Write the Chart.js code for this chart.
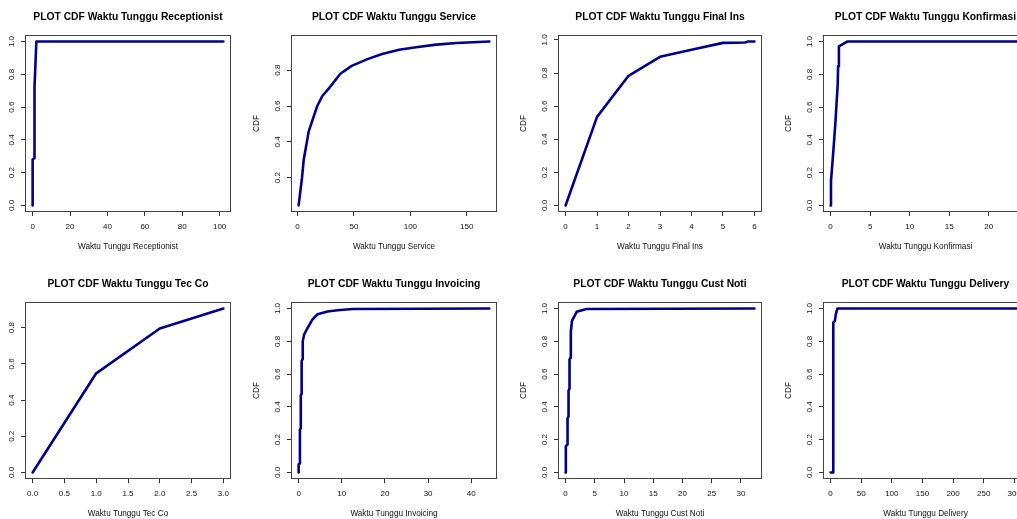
<!DOCTYPE html>
<html><head><meta charset="utf-8">
<script src="https://cdn.jsdelivr.net/npm/chart.js@4/dist/chart.umd.min.js"></script>
<style>
html,body{margin:0;padding:0;background:#fff;overflow:hidden}
#wrap{position:relative;width:1017px;height:519px;overflow:hidden;background:#fff}
#wrap canvas{position:absolute}
</style></head><body><div id="wrap"></div>
<script>
// ---- data ----
const recepX = [0, 0, 1, 1, 2, 102];
const recepY = [0, 0.28, 0.29, 0.72, 1, 1];
const serviceX = [1, 4, 5.5, 10, 17.5, 22, 28, 38, 48, 62, 75, 90, 105, 123, 141, 170];
const serviceY = [0.045, 0.2, 0.3, 0.46, 0.6, 0.656, 0.7, 0.78, 0.824, 0.862, 0.89, 0.914, 0.928, 0.943, 0.952, 0.96];
const finalX = [0, 1, 2, 3, 4, 5, 5.7, 5.8, 6];
const finalY = [0, 0.535, 0.783, 0.898, 0.94, 0.982, 0.984, 0.99, 0.99];
const konfX = [0, 0.05, 0.25, 0.42, 0.6, 0.75, 0.9, 0.95, 1.05, 2.1, 24];
const konfY = [0, 0.15, 0.27, 0.38, 0.5, 0.62, 0.74, 0.85, 0.97, 1, 1];
const tecX = [0, 1, 2, 3];
const tecY = [0, 0.548, 0.796, 0.906];
const invX = [0, 0, 0.3, 0.3, 0.5, 0.5, 0.7, 0.7, 0.9, 0.95, 1.3, 2.1, 3.25, 4.4, 6.7, 9, 12.5, 44.2];
const invY = [0, 0.05, 0.055, 0.26, 0.27, 0.47, 0.48, 0.68, 0.69, 0.8, 0.843, 0.883, 0.935, 0.965, 0.982, 0.99, 0.997, 1];
const custX = [0, 0.05, 0.3, 0.34, 0.5, 0.51, 0.65, 0.68, 0.85, 0.9, 1.1, 1.9, 2.8, 3.6, 32.3];
const custY = [0, 0.16, 0.17, 0.33, 0.34, 0.5, 0.51, 0.69, 0.7, 0.86, 0.925, 0.98, 0.99, 0.997, 1];
const delivX = [0, 4.4, 4.4, 7, 8.5, 11, 310];
const delivY = [0, 0, 0.915, 0.925, 0.965, 1, 1];

// tick labels
const yTicks01 = ["0.0", "0.2", "0.4", "0.6", "0.8", "1.0"];
const yTicks28 = ["0.2", "0.4", "0.6", "0.8"];
const yTicks08 = ["0.0", "0.2", "0.4", "0.6", "0.8"];
const recepXT = ["0", "20", "40", "60", "80", "100"];
const serviceXT = ["0", "50", "100", "150"];
const finalXT = ["0", "1", "2", "3", "4", "5", "6"];
const konfXT = ["0", "5", "10", "15", "20"];
const tecXT = ["0.0", "0.5", "1.0", "1.5", "2.0", "2.5", "3.0"];
const invXT = ["0", "10", "20", "30", "40"];
const custXT = ["0", "5", "10", "15", "20", "25", "30"];
const delivXT = ["0", "50", "100", "150", "200", "250", "300"];

const titles = ["PLOT CDF Waktu Tunggu Receptionist", "PLOT CDF Waktu Tunggu Service", "PLOT CDF Waktu Tunggu Final Ins", "PLOT CDF Waktu Tunggu Konfirmasi",
                "PLOT CDF Waktu Tunggu Tec Co", "PLOT CDF Waktu Tunggu Invoicing", "PLOT CDF Waktu Tunggu Cust Noti", "PLOT CDF Waktu Tunggu Delivery"];
const xTitles = ["Waktu Tunggu Receptionist", "Waktu Tunggu Service", "Waktu Tunggu Final Ins", "Waktu Tunggu Konfirmasi",
                 "Waktu Tunggu Tec Co", "Waktu Tunggu Invoicing", "Waktu Tunggu Cust Noti", "Waktu Tunggu Delivery"];
const yTitle = "CDF";

const panels = [
  {x: recepX, y: recepY, xt: recepXT, yt: yTicks01},
  {x: serviceX, y: serviceY, xt: serviceXT, yt: yTicks28},
  {x: finalX, y: finalY, xt: finalXT, yt: yTicks01},
  {x: konfX, y: konfY, xt: konfXT, yt: yTicks01},
  {x: tecX, y: tecY, xt: tecXT, yt: yTicks08},
  {x: invX, y: invY, xt: invXT, yt: yTicks01},
  {x: custX, y: custY, xt: custXT, yt: yTicks01},
  {x: delivX, y: delivY, xt: delivXT, yt: yTicks01}
];

// ---- layout / style ----
const FONT = '"Liberation Sans", Arial, sans-serif';
const colLeft = [-15, 251, 518, 783];
const rowTop = [0, 267];
const plotW = [206, 206, 204, 205];
const plotH = 177;
const YW = 40, TH = 35, XH = 48, CW = 266;
const LINE = '#00008B';
const TXT = '#111';

const framePlugin = {
  id: 'frame',
  afterDraw(chart) {
    const a = chart.chartArea, c = chart.ctx;
    c.save();
    c.strokeStyle = '#444';
    c.lineWidth = 1;
    c.strokeRect(Math.round(a.left) + 0.5, Math.round(a.top) + 0.5, Math.round(a.right - a.left) - 1, Math.round(a.bottom - a.top) - 1);
    c.restore();
  }
};

function ext(arr) {
  const lo = Math.min(...arr), hi = Math.max(...arr), r = hi - lo;
  return [lo - 0.04 * r, hi + 0.04 * r];
}

const wrap = document.getElementById('wrap');
panels.forEach((p, i) => {
  const col = i % 4, row = Math.floor(i / 4);
  const cv = document.createElement('canvas');
  cv.width = CW; cv.height = TH + plotH + XH;
  cv.style.left = colLeft[col] + 'px';
  cv.style.top = rowTop[row] + 'px';
  wrap.appendChild(cv);
  const [xmin, xmax] = ext(p.x);
  const [ymin, ymax] = ext(p.y);
  const pts = p.x.map((v, k) => ({x: v, y: p.y[k]}));
  new Chart(cv, {
    type: 'line',
    data: {datasets: [{data: pts, borderColor: LINE, borderWidth: 2.6, pointRadius: 0, tension: 0, fill: false, borderJoinStyle: 'round', borderCapStyle: 'round'}]},
    plugins: [framePlugin],
    options: {
      responsive: false, animation: false, devicePixelRatio: 1,
      layout: {padding: {left: 0, top: 0, bottom: 0, right: CW - YW - plotW[col]}},
      plugins: {
        legend: {display: false}, tooltip: {enabled: false},
        title: {display: true, text: titles[i], fullSize: false, color: '#000',
                font: {family: FONT, size: 10.3, weight: 'bold'}, padding: {top: 10.8, bottom: 11.84}}
      },
      scales: {
        x: {
          type: 'linear', min: xmin, max: xmax,
          afterFit: s => { s.height = XH; },
          afterBuildTicks: s => { s.ticks = p.xt.map(v => ({value: parseFloat(v)})); },
          grid: {display: true, drawOnChartArea: false, drawTicks: true, tickLength: 4, color: '#333'},
          border: {display: false},
          ticks: {autoSkip: false, maxRotation: 0, minRotation: 0, padding: 5.5, color: TXT,
                  font: {family: FONT, size: 8}, callback: (v, k) => p.xt[k]},
          title: {display: true, text: xTitles[i], color: TXT, font: {family: FONT, size: 8.2}, padding: {top: 0, bottom: 8.1}}
        },
        y: {
          type: 'linear', min: ymin, max: ymax,
          afterFit: s => { s.width = YW; },
          afterBuildTicks: s => { s.ticks = p.yt.map(v => ({value: parseFloat(v)})); },
          grid: {display: true, drawOnChartArea: false, drawTicks: true, tickLength: 4, color: '#333'},
          border: {display: false},
          ticks: {autoSkip: false, minRotation: 90, maxRotation: 90, crossAlign: 'center', padding: 3.5, color: TXT,
                  font: {family: FONT, size: 8}, callback: (v, k) => p.yt[k]},
          title: {display: true, text: yTitle, color: TXT, font: {family: FONT, size: 8.2}, padding: {top: 1.1, bottom: 0}}
        }
      }
    }
  });
});
</script></body></html>
